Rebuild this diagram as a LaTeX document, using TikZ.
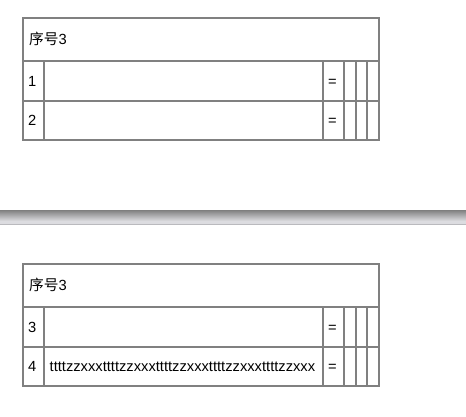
\documentclass[tikz,border=0pt]{standalone}
\usepackage{fontspec}
\setmainfont{Liberation Sans}
\newfontfamily\cjk{Noto Sans CJK SC}
\definecolor{barlight}{RGB}{220,220,224}
\definecolor{barshade}{RGB}{186,186,190}

\begin{document}
\begin{tikzpicture}[x=1pt,y=-1pt]
	\tikzstyle{grid} = [draw=gray, line width=2]
	\tikzstyle{cell} = [anchor=base west, inner sep=0, font=\fontsize{14.7}{17}\selectfont]
	\useasboundingbox (0,0) rectangle (466,416);
	% upper table
	\draw[grid] (23,18) rectangle (379,140);
	\draw[grid] (23,61) -- (379,61);
	\draw[grid] (23,101) -- (379,101);
	\foreach \x in {44,323,344,356,367}
		\draw[grid] (\x,61) -- (\x,140);
		\node[cell] (head1) at (29,44.8) {{\cjk 序号}3};
		\node[cell] (n1) at (28,86.3) {1};
		\node[cell] (n2) at (28,125.8) {2};
		\node[cell] (eq1) at (328,86.3) {=};
		\node[cell] (eq2) at (328,125.8) {=};
	% separator bar
	\shade[top color=gray, bottom color=barlight] (0,210) rectangle (466,221);
	\fill[barlight] (0,221) rectangle (466,223.5);
	\fill[barshade] (0,223.5) rectangle (466,225);
	% lower table
	\draw[grid] (23,264) rectangle (379,386);
	\draw[grid] (23,307) -- (379,307);
	\draw[grid] (23,347) -- (379,347);
	\foreach \x in {44,323,344,356,367}
		\draw[grid] (\x,307) -- (\x,386);
		\node[cell] (head2) at (29,290.8) {{\cjk 序号}3};
		\node[cell] (n3) at (28,332.3) {3};
		\node[cell] (n4) at (28,371.8) {4};
		\node[cell] (txt4) at (49.5,371.8) {ttttzzxxxttttzzxxxttttzzxxxttttzzxxxttttzzxxx};
		\node[cell] (eq3) at (328,332.3) {=};
		\node[cell] (eq4) at (328,371.8) {=};
\end{tikzpicture}
\end{document}
